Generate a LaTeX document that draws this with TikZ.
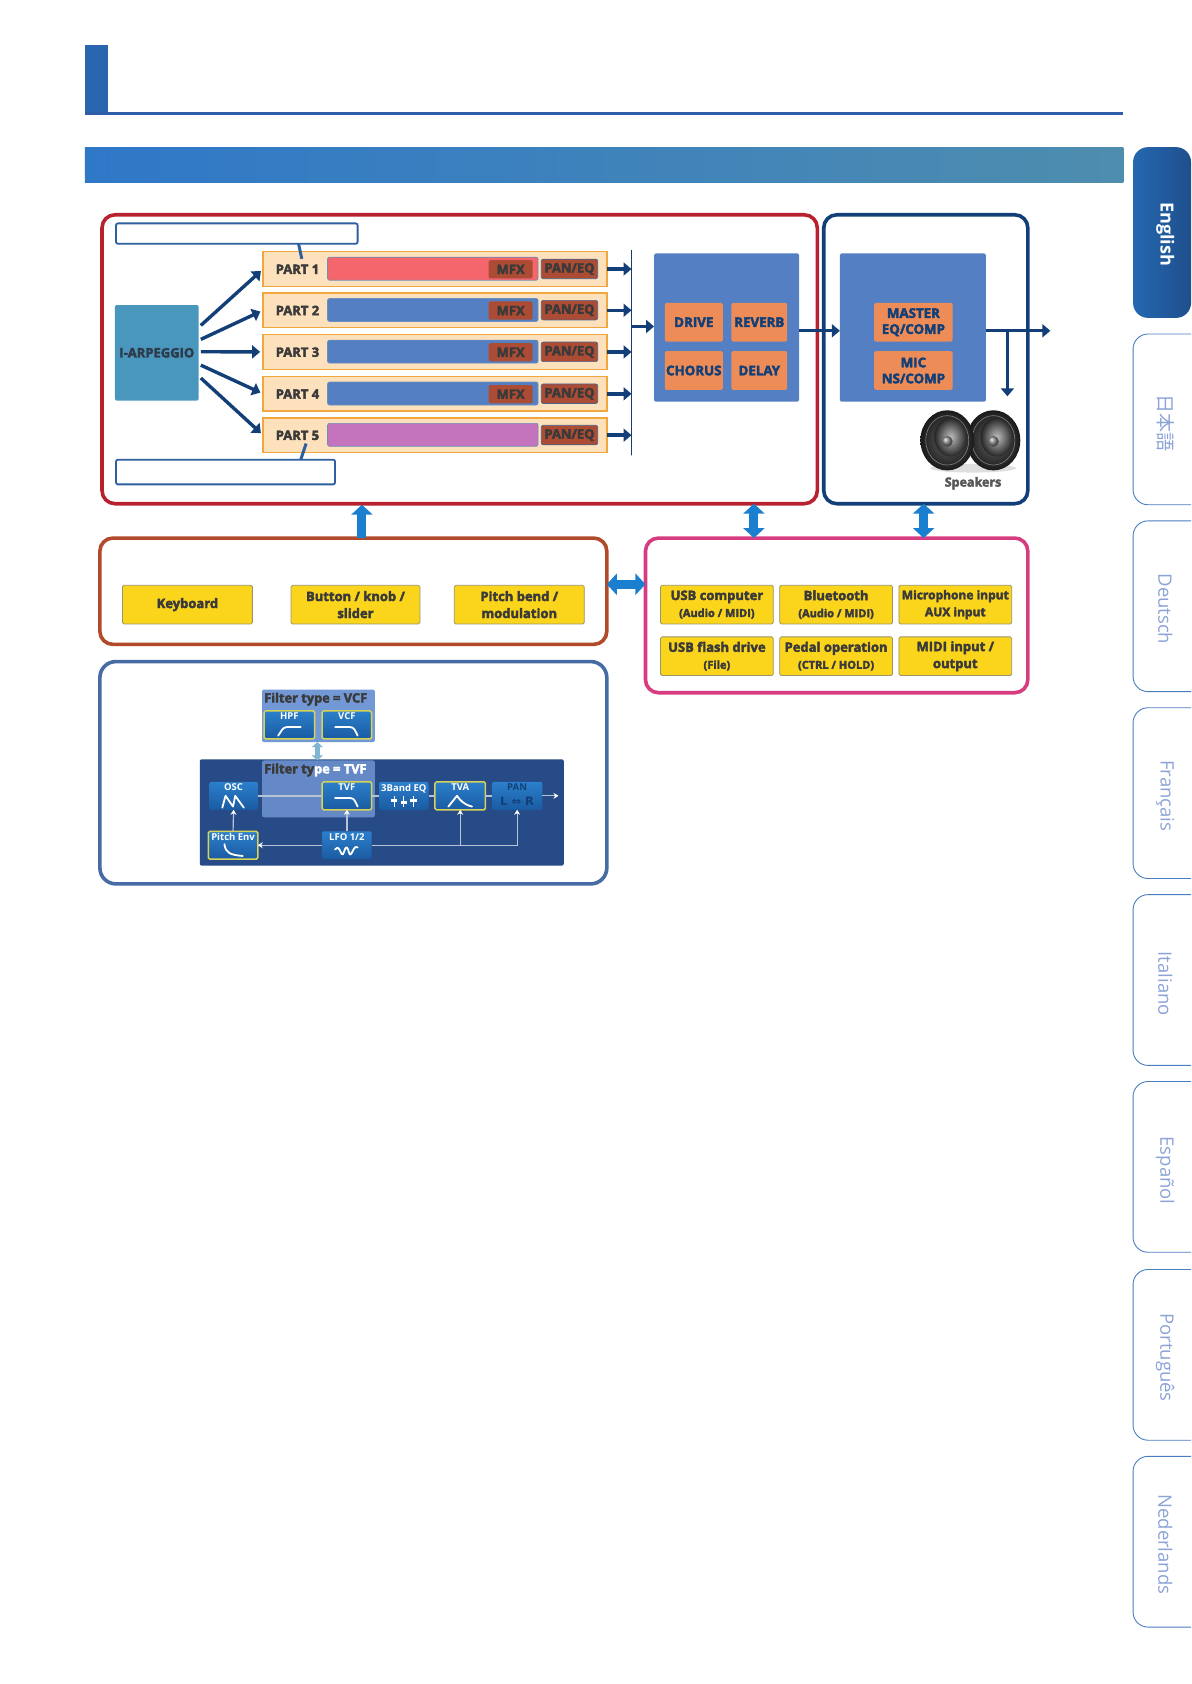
\documentclass[tikz,border=0pt]{standalone}
\usepackage{fontspec}
\usetikzlibrary{arrows.meta}
\setmainfont{Open Sans}
\newfontfamily\heavyfont[BoldFeatures={FakeBold=3}]{Open Sans}
\newfontfamily\cjkfont{Noto Sans CJK JP}
\newfontfamily\symfont{DejaVu Sans}
\definecolor{navy}{HTML}{123F77}
\definecolor{titleblue}{HTML}{2A66B0}
\definecolor{lineblue}{HTML}{2B5EA6}
\definecolor{hdrleft}{HTML}{2F78C8}
\definecolor{hdrright}{HTML}{4E8DAE}
\definecolor{tableft}{HTML}{2468B0}
\definecolor{tabright}{HTML}{1F4F8C}
\definecolor{framered}{HTML}{B8222F}
\definecolor{framebrown}{HTML}{B04A2B}
\definecolor{framepink}{HTML}{D83C80}
\definecolor{frameblue}{HTML}{476BA4}
\definecolor{calloutblue}{HTML}{2E5F9E}
\definecolor{rowfill}{HTML}{FDE1BC}
\definecolor{rowline}{HTML}{F1A63E}
\definecolor{fxblue}{HTML}{5480C3}
\definecolor{fxorange}{HTML}{EE8C58}
\definecolor{rust}{HTML}{AD4C34}
\definecolor{partred}{HTML}{F4656C}
\definecolor{partviolet}{HTML}{C474BD}
\definecolor{arpblue}{HTML}{4A97BD}
\definecolor{padyellow}{HTML}{FBD41C}
\definecolor{padline}{HTML}{9A9468}
\definecolor{darktext}{HTML}{3A3A3A}
\definecolor{blockblue}{HTML}{1B7FCF}
\definecolor{synthbg}{HTML}{264B87}
\definecolor{synthtop}{HTML}{2C7FCB}
\definecolor{synthbot}{HTML}{1A5BA2}
\definecolor{groupa}{HTML}{7298D5}
\definecolor{groupb}{HTML}{6489C6}
\definecolor{lime}{HTML}{D8D256}
\definecolor{tabtext}{HTML}{8CA3D6}
\definecolor{tabline}{HTML}{4A7CC0}
\definecolor{wireline}{HTML}{B7C4D6}
\newcommand{\bx}[7]{\node[#1, minimum width={((#4)-(#2))*1.07394}, minimum height={((#5)-(#3))*1.07394}] (#6) at ({(#2+#4)/2},{(#3+#5)/2}) {#7};}
\newcommand{\syn}[7]{\node[synthbox, #1, minimum width={((#4)-(#2))*1.07394}, minimum height={((#5)-(#3))*1.07394}, label={[synthtext, anchor=north, inner sep=2pt]north:#7}] (#6) at ({(#2+#4)/2},{(#3+#5)/2}) {};}
\tikzset{
	every node/.style={inner sep=0pt, outer sep=0pt},
	frame/.style={draw, line width=3.6pt, rounded corners=13pt, fill=white},
	callout/.style={draw=calloutblue, line width=1.8pt, rounded corners=2pt, fill=white},
	partrow/.style={draw=rowline, line width=1.5pt, fill=rowfill},
	partbar/.style={draw=calloutblue!70, line width=.7pt, rounded corners=2pt},
	rustbox/.style={fill=rust, rounded corners=2pt, font=\heavyfont\bfseries\fontsize{13}{13}\selectfont, text=darktext},
	parttext/.style={font=\heavyfont\bfseries\fontsize{13}{13}\selectfont, text=darktext},
	fxbox/.style={fill=fxblue, rounded corners=1.5pt},
	fxpad/.style={fill=fxorange, rounded corners=1.5pt, align=center, text=navy, font=\heavyfont\bfseries\fontsize{13.3}{16}\selectfont},
	pad/.style={draw=padline, line width=.8pt, fill=padyellow, rounded corners=1.5pt, align=center, text=darktext, font=\heavyfont\bfseries\fontsize{13}{17}\selectfont},
	flow/.style={draw=navy, line width=3.4pt, -{Triangle[width=13pt,length=8pt]}},
	block/.style={draw=blockblue, line width=9pt, {Triangle[width=21pt,length=10pt]}-{Triangle[width=21pt,length=10pt]}},
	blockup/.style={draw=blockblue, line width=9pt, -{Triangle[width=21pt,length=10pt]}},
	synthbox/.style={top color=synthtop, bottom color=synthbot, rounded corners=1.5pt},
	keyed/.style={draw=lime, line width=1.5pt},
	plain/.style={draw=none},
	synthtext/.style={text=white, font=\bfseries\fontsize{9.5}{9.5}\selectfont},
	wire/.style={draw=wireline, line width=1.5pt},
	wirearrow/.style={draw=wireline, line width=1.2pt, -{Stealth[length=5pt,width=6pt,color=white]}},
	iconline/.style={draw=white, line width=1.8pt, line join=round, line cap=round},
	lowpass/.pic={\draw[iconline] (-11,-3) -- (3,-3) .. controls (7,-3) and (8,1) .. (10,5);},
	highpass/.pic={\draw[iconline] (-11,5) .. controls (-8,1) and (-7,-3) .. (-3,-3) -- (10,-3);},
	sawwave/.pic={\draw[iconline] (-10,6) -- (-7,-5) -- (0,5) -- (2,-5) -- (10,6);},
	hump/.pic={\draw[iconline] (-11,5) -- (-3,-5) .. controls (0,-1) and (3,3) .. (11,5);},
	decay/.pic={\draw[iconline] (-8,-6) .. controls (-7,2) and (-3,4) .. (9,5);},
	wavy/.pic={\draw[iconline] (-11,-1) .. controls (-8,-5) and (-7,-1) .. (-5,3) .. controls (-3,7) and (-2,-5) .. (0,-3) .. controls (2,-1) and (2,6) .. (4,3) .. controls (6,0) and (7,-5) .. (10,-3);},
	sliders/.pic={\foreach \sx/\sy in {-9/-1,0/1,9/-1}{\draw[draw=white, line width=.9pt] (\sx,-5) -- (\sx,5); \fill[white] (\sx-3,\sy-1.5) rectangle (\sx+3,\sy+1.5);}},
	speakerpic/.pic={
		\shade[inner color=black!60, outer color=black!90] (0,0) ellipse [x radius=25, y radius=28];
		\draw[black!50, line width=.6pt] (0,0) ellipse [x radius=20, y radius=23];
		\shade[inner color=black!25, outer color=black!85] (3,-3) ellipse [x radius=15, y radius=18];
		\shade[ball color=black!45] (0,1) circle [radius=5];
	}
}
\begin{document}
\begin{tikzpicture}[x=1.07394pt, y=-1.07394pt]
	\useasboundingbox (0,0) rectangle (1109,1568);
	\bx{fill=titleblue}{79}{42}{101}{106}{tsq}{}
	\bx{fill=lineblue}{79}{104}{1046}{107}{tline}{}
	\bx{left color=hdrleft, right color=hdrright}{79}{137}{1046}{170}{hdr}{}

	\shade[left color=tableft, right color=tabright, rounded corners=15pt] (1109,137) -- (1055,137) -- (1055,296) -- (1109,296) -- cycle;
	\node[rotate=-90, text=white, font=\bfseries\fontsize{18}{18}\selectfont] (en) at (1085,218) {English};
	\foreach \tt in {311,485,659,833,1007,1182,1356}
		\draw[tabline, line width=.9pt, rounded corners=15pt] (1109,\tt) -- (1055,\tt) -- (1055,\tt+159) -- (1109,\tt+159);
	\node[rotate=-90, text=tabtext, font=\cjkfont\fontsize{19}{19}\selectfont] (ja) at (1085,394) {日本語};
	\foreach \nm/\lang/\yy in {de/Deutsch/567, fr/Français/741, it/Italiano/916, es/Español/1090, pt/Português/1264, nl/Nederlands/1438}
		\node[rotate=-90, text=tabtext, font=\fontsize{18.5}{18.5}\selectfont] (\nm) at (1085,\yy) {\lang};

	\bx{frame, draw=framered}{95}{200}{761}{469}{redf}{}
	\bx{frame, draw=navy}{767}{200}{957}{469}{navyf}{}
	\bx{frame, draw=framebrown}{93}{501}{565}{600}{brownf}{}
	\bx{frame, draw=framepink}{601}{501}{957}{645}{pinkf}{}
	\bx{frame, draw=frameblue, rounded corners=16pt}{93}{616}{565}{823}{bluef}{}

	\bx{callout}{108}{208}{333}{227}{cb1}{}
	\bx{callout}{108}{428}{312}{451}{cb2}{}
	\bx{fill=arpblue, rounded corners=2pt, text=darktext!70!navy, font=\heavyfont\bfseries\fontsize{13}{13}\selectfont}{107}{284}{185}{373}{arp}{I-ARPEGGIO}

	\foreach \i/\yy/\barcol in {1/234.3/partred, 2/272.7/fxblue, 3/311.5/fxblue, 4/350.5/fxblue, 5/389/partviolet}{
		\bx{partrow}{245}{\yy}{565}{\yy+32.4}{row\i}{}
		\node[parttext] (lab\i) at (277,\yy+16.4) {PART \i};
		\bx{partbar, fill=\barcol}{305}{\yy+5.2}{501}{\yy+26.6}{bar\i}{}
		\bx{rustbox, draw=fxblue!60!darktext, line width=.7pt}{504}{\yy+7}{556.5}{\yy+25.2}{pan\i}{PAN/EQ}
		\coordinate (mid\i) at (588,\yy+16.2);
		\draw[flow] (row\i.east) -- (mid\i);
	}
	\foreach \i/\yy in {1/234.3, 2/272.7, 3/311.5, 4/350.5}
		\bx{rustbox}{455}{\yy+8}{496}{\yy+25}{mfx\i}{MFX}
	\coordinate (tip1) at (281,241);
	\coordinate (tip2) at (285,413);
	\draw[calloutblue, line width=3pt] (278,0 |- cb1.south) -- (tip1);
	\draw[calloutblue, line width=3pt] (280,0 |- cb2.north) -- (tip2);

	\coordinate (a1) at (187,303);
	\coordinate (a2) at (187,316);
	\coordinate (a3) at (187,327.5);
	\coordinate (a4) at (187,340);
	\coordinate (a5) at (187,352);
	\foreach \i in {1,...,5}
		\draw[flow, shorten >=3pt] (a\i) -- (row\i.west);

	\bx{draw=navy, line width=1pt}{588}{233}{588}{424}{bus}{}
	\bx{fxbox}{609}{236}{744}{374}{fx}{}
	\bx{fxpad}{619}{282}{673}{318}{drive}{DRIVE}
	\bx{fxpad}{681}{282}{733}{318}{reverb}{REVERB}
	\bx{fxpad}{619}{327}{673}{363}{chorus}{CHORUS}
	\bx{fxpad}{681}{327}{733}{363}{delay}{DELAY}
	\bx{fxbox}{782}{236}{918}{374}{mast}{}
	\bx{fxpad}{814}{282}{887}{318}{meq}{MASTER\\EQ/COMP}
	\bx{fxpad}{814}{327}{887}{363}{mic}{MIC\\NS/COMP}
	\coordinate (busin) at (588,304);
	\coordinate (sendy) at (744,308);
	\coordinate (outp) at (978,308);
	\coordinate (jn) at (938,308);
	\coordinate (spk) at (938,369);
	\draw[flow] (busin) -- (busin -| fx.west);
	\draw[flow] (sendy) -- (sendy -| mast.west);
	\draw[flow] (sendy -| mast.east) -- (outp);
	\draw[flow] (jn) -- (spk);

	\fill[black!25, opacity=.5] (906,436) ellipse [x radius=40, y radius=4];
	\pic at (925,410) {speakerpic};
	\pic at (882,410) {speakerpic};
	\node[text=darktext!85, font=\heavyfont\bfseries\fontsize{12.5}{12.5}\selectfont] (spktxt) at (906,450) {Speakers};

	\draw[blockup, shorten >=1pt] (337,0 |- brownf.north) -- (337,0 |- redf.south);
	\draw[block] (702,0 |- redf.south) -- (702,0 |- pinkf.north);
	\draw[block] (860,0 |- navyf.south) -- (860,0 |- pinkf.north);
	\draw[block] (brownf.east |- 0,544) -- (pinkf.west |- 0,544);

	\bx{pad}{114}{545}{235}{581}{kbd}{Keyboard}
	\bx{pad}{271}{545}{391}{581}{btn}{Button / knob /\\slider}
	\bx{pad}{423}{545}{544}{581}{bend}{Pitch bend /\\modulation}
	\bx{pad}{615}{545}{720}{581}{usbc}{USB computer\\{\fontsize{11}{13}\selectfont (Audio / MIDI)}}
	\bx{pad}{726}{545}{831}{581}{bt}{Bluetooth\\{\fontsize{11}{13}\selectfont (Audio / MIDI)}}
	\bx{pad, font=\heavyfont\bfseries\fontsize{12}{17}\selectfont}{837}{545}{942}{581}{mici}{Microphone input\\AUX input}
	\bx{pad}{615}{593}{720}{629}{usbf}{USB flash drive\\{\fontsize{11}{13}\selectfont (File)}}
	\bx{pad}{726}{593}{831}{629}{pedal}{Pedal operation\\{\fontsize{11}{13}\selectfont (CTRL / HOLD)}}
	\bx{pad}{837}{593}{942}{629}{midi}{MIDI input /\\output}

	\bx{fill=synthbg, rounded corners=2pt}{186}{707}{525}{806}{synbg}{}
	\bx{fill=groupa, rounded corners=2pt}{244}{642}{349}{691}{grpv}{}
	\bx{fill=groupb, rounded corners=2pt}{244}{708}{349}{761}{grpt}{}
	\node[anchor=west, text=darktext, font=\heavyfont\bfseries\fontsize{12.8}{12.8}\selectfont] (gv) at (246,651) {Filter type = VCF};
	\node[anchor=west, font=\heavyfont\bfseries\fontsize{12.8}{12.8}\selectfont] (gt) at (246,717) {\textcolor{darktext}{Filter ty}\textcolor{white}{pe = TVF}};
	\draw[draw=arpblue!70!white, line width=5pt, {Triangle[width=11pt,length=5pt]}-{Triangle[width=11pt,length=5pt]}] (grpv.south -| 295.5,0) -- (grpt.north -| 295.5,0);

	\syn{plain}{195}{728}{240}{754}{osc}{OSC}
	\syn{keyed}{300}{728}{346}{754}{tvf}{TVF}
	\syn{plain}{353}{728}{399}{754}{eq}{3Band EQ}
	\syn{keyed}{405}{728}{452}{754}{tva}{TVA}
	\syn{plain}{458}{728}{505}{754}{pann}{\textcolor{navy}{PAN}}
	\syn{keyed}{246}{662}{293}{688}{hpf}{HPF}
	\syn{keyed}{300}{662}{346}{688}{vcf}{VCF}
	\syn{keyed}{194}{774}{240}{800}{penv}{Pitch Env}
	\syn{plain}{300}{774}{346}{800}{lfo}{LFO 1/2}
	\coordinate (syno) at (520,741);
	\draw[wire] (osc.east) -- (tvf.west);
	\draw[wire] (tvf.east) -- (eq.west);
	\draw[wire] (eq.east) -- (tva.west);
	\draw[wire] (tva.east) -- (pann.west);
	\draw[wirearrow] (pann.east) -- (syno);
	\draw[wirearrow] (penv.north) -- (osc.south);
	\draw[wirearrow] (lfo.north) -- (tvf.south);
	\draw[wirearrow] (lfo.west) -- (penv.east);
	\draw[wirearrow] (lfo.east) -| (pann.south);
	\draw[wirearrow] (tva.south |- lfo.east) -- (tva.south);

	\pic at (270,680) {highpass};
	\pic at (323,680) {lowpass};
	\pic at (323,746) {lowpass};
	\pic at (217,746) {sawwave};
	\pic at (428.5,746) {hump};
	\pic at (217,792) {decay};
	\pic at (323,792) {wavy};
	\pic at (376,746) {sliders};
	\node[text=navy, font=\symfont\bfseries\fontsize{11.5}{11.5}\selectfont] (lr) at (481.5,746) {L ⇔ R};
\end{tikzpicture}
\end{document}
